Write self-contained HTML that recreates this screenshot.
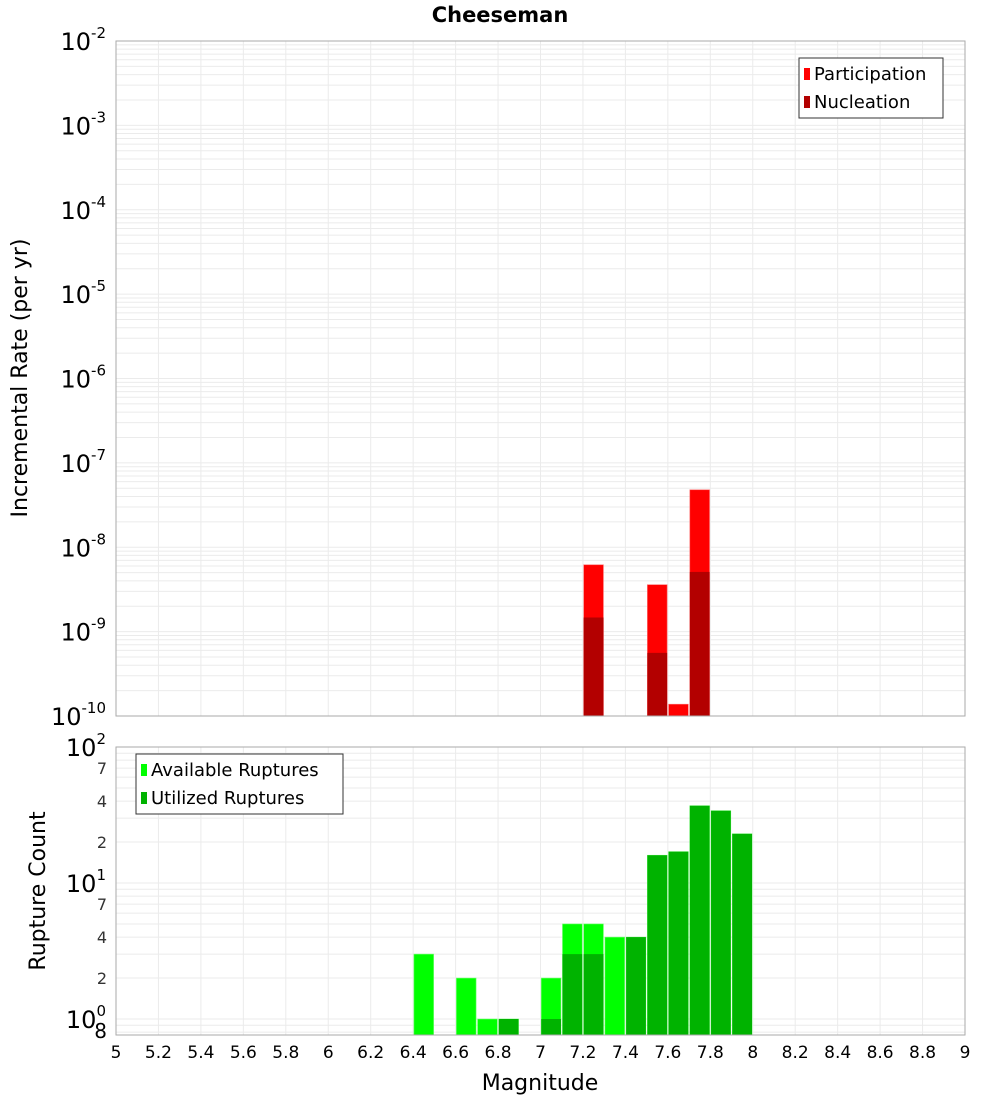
<!DOCTYPE html>
<html><head><meta charset="utf-8"><style>
body{margin:0;background:#fff}
svg{font-family:"DejaVu Sans","Liberation Sans",sans-serif}
</style></head><body>
<svg id="c" width="1000" height="1100" xmlns="http://www.w3.org/2000/svg">
<text x="500" y="22" text-anchor="middle" font-size="21" font-weight="bold">Cheeseman</text>
<g id="gtop"></g>
<g id="gbot"></g>
<text transform="translate(27,378) rotate(-90)" text-anchor="middle" font-size="22">Incremental Rate (per yr)</text>
<text transform="translate(45,891) rotate(-90)" text-anchor="middle" font-size="22">Rupture Count</text>
<text x="540" y="1090" text-anchor="middle" font-size="22">Magnitude</text>
</svg>
<script>
const magBins=[7.25,7.55,7.65,7.75];
const participation=[6.2e-9,3.6e-9,1.38e-10,4.8e-8];
const nucleation=[1.47e-9,5.6e-10,0,5.1e-9];
const countBins=[6.45,6.65,6.75,6.85,7.05,7.15,7.25,7.35,7.45,7.55,7.65,7.75,7.85,7.95];
const available=[3,2,1,1,2,5,5,4,4,16,17,37,34,23];
const utilized=[0,0,0,1,1,3,3,0,4,16,17,37,34,23];
const xTicks=[5,5.2,5.4,5.6,5.8,6,6.2,6.4,6.6,6.8,7,7.2,7.4,7.6,7.8,8,8.2,8.4,8.6,8.8,9];
const NS="http://www.w3.org/2000/svg";
const L=116,R=965;
const x=m=>L+(m-5)/4*(R-L);
const yT=v=>41+(-2-Math.log10(v))*84.375;
const yB=v=>747+(2-Math.log10(v))*136;
function el(p,t,a){const e=document.createElementNS(NS,t);for(const k in a)e.setAttribute(k,a[k]);p.appendChild(e);return e;}
const gTop=document.getElementById('gtop'),gBot=document.getElementById('gbot');
function grid(g,y0,y1,yf,dmin,dmax){
 for(let d=dmin;d<dmax;d++)for(let k=1;k<10;k++){const yy=yf(k*Math.pow(10,d));if(yy<y0-0.5||yy>y1+0.5)continue;
  const ln=el(g,'line',{x1:L,x2:R,y1:yy,y2:yy,stroke:'#ebebeb','stroke-width':1});
  
  }
 xTicks.forEach(t=>{const ln=el(g,'line',{x1:x(t),x2:x(t),y1:y0,y2:y1,stroke:'#ebebeb','stroke-width':1});
  
  });
}
grid(gTop,41,716,yT,-10,-2);
grid(gBot,747,1035,yB,-1,2);
const bw=(x(5.1)-x(5))-1.5;
magBins.forEach((m,i)=>{
 const r=el(gTop,'rect',{x:x(m)-bw/2,y:yT(participation[i]),width:bw,height:716-yT(participation[i]),fill:'#ff0000',stroke:'#ff7070','stroke-width':0.6});
 
 
 if(nucleation[i]>0){const n=el(gTop,'rect',{x:x(m)-bw/2,y:yT(nucleation[i]),width:bw,height:716-yT(nucleation[i]),fill:'#b30000'});
 
 }
});
countBins.forEach((m,i)=>{
 const r=el(gBot,'rect',{x:x(m)-bw/2,y:yB(available[i]),width:bw,height:1035-yB(available[i]),fill:'#00ff00',stroke:'#70ff70','stroke-width':0.6});
 
 
 if(utilized[i]>0){const u=el(gBot,'rect',{x:x(m)-bw/2,y:yB(utilized[i]),width:bw,height:1035-yB(utilized[i]),fill:'#00b300'});
 
 }
});
[[gTop,41,716],[gBot,747,1035]].forEach(([g,a,b])=>{const f=el(g,'rect',{x:L,y:a,width:R-L,height:b-a,fill:'none',stroke:'#aaa','stroke-width':1});
 
 });
for(let d=-10;d<=-2;d++){const t=el(gTop,'text',{x:106,y:yT(Math.pow(10,d))+9,'text-anchor':'end','font-size':24});
 
 
 t.innerHTML='10<tspan dy="-12" font-size="15">'+d+'</tspan>';}
[2,1,0].forEach(d=>{const t=el(gBot,'text',{x:106,y:yB(Math.pow(10,d))+9,'text-anchor':'end','font-size':24});
 
 
 t.innerHTML='10<tspan dy="-12" font-size="15">'+d+'</tspan>';});
[[70,'7'],[40,'4'],[20,'2'],[7,'7'],[4,'4'],[2,'2'],[0.8,'8']].forEach(([v,s])=>{
 const t=el(gBot,'text',{x:107,y:yB(v)+6,'text-anchor':'end','font-size':v<1?20:16,fill:v<1?'#000':'#333'});
 
 
 t.textContent=s;});
xTicks.forEach(tk=>{const t=el(gBot,'text',{x:x(tk),y:1058,'text-anchor':'middle','font-size':17});
 
 
 t.textContent=String(tk);});
function legend(g,lx,ly,w,items){const b=el(g,'rect',{x:lx,y:ly,width:w,height:60,fill:'#fff',stroke:'#333','stroke-width':1});
 
 
 items.forEach(([c,s],i)=>{const sw=el(g,'rect',{x:lx+5,y:ly+10+i*28,width:6,height:12,fill:c});
 
 
 const t=el(g,'text',{x:lx+15,y:ly+22+i*28,'font-size':18});
 
 
 t.textContent=s;});}
legend(gTop,799,58,144,[['#ff0000','Participation'],['#b30000','Nucleation']]);
legend(gBot,136,754,207,[['#00ff00','Available Ruptures'],['#00b300','Utilized Ruptures']]);
</script>
</body></html>
